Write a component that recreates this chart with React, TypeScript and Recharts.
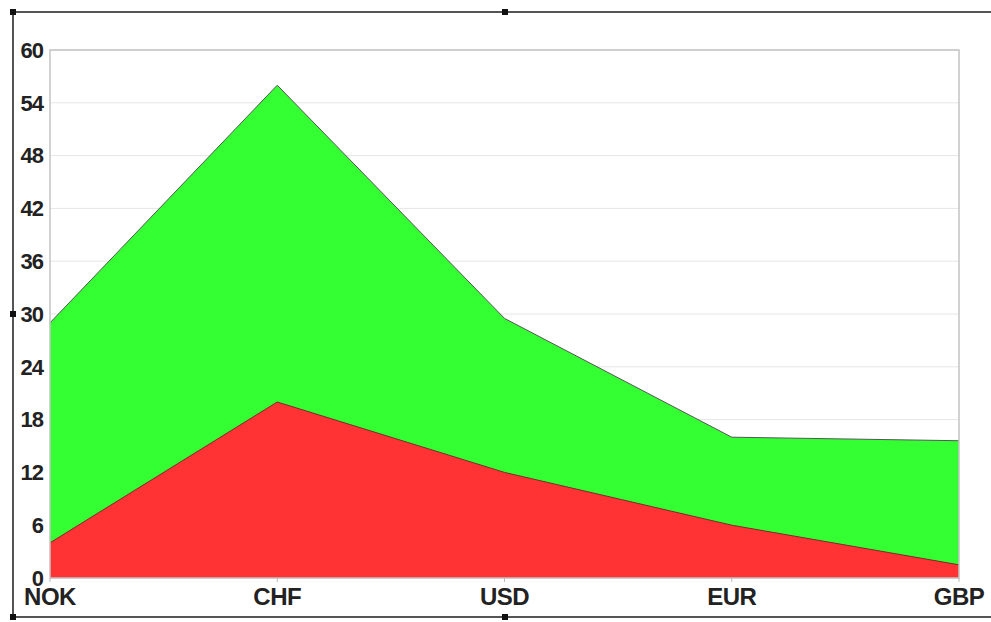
import { AreaChart, Area, XAxis, YAxis, CartesianGrid, ReferenceArea } from 'recharts';

const currencies = ['NOK', 'CHF', 'USD', 'EUR', 'GBP'];
const totalValues = [29, 56, 29.5, 16, 15.6];
const redValues = [4, 20, 12, 6, 1.5];
const yTicks = [0, 6, 12, 18, 24, 30, 36, 42, 48, 54, 60];

const data = currencies.map((c, i) => ({ name: c, total: totalValues[i], red: redValues[i] }));

const yTickFont = { fontFamily: 'Liberation Sans, Arial, sans-serif', fontWeight: 700, fontSize: 22, fill: '#222', letterSpacing: -1 };
const xTickFont = { fontFamily: 'Liberation Sans, Arial, sans-serif', fontWeight: 700, fontSize: 24, fill: '#222', letterSpacing: -0.5 };

const line = (s: React.CSSProperties): React.CSSProperties => ({ position: 'absolute', background: '#555', ...s });
const handle = (left: number, top: number): React.CSSProperties => ({
  position: 'absolute', left: left - 3, top: top - 3, width: 6, height: 6, background: '#111',
});

export default function App() {
  return (
    <div style={{ position: 'absolute', left: 0, top: 0, width: 991, height: 622, background: '#fff' }}>
      <AreaChart width={991} height={622} data={data} margin={{ top: 50, right: 32, left: 0, bottom: 0 }}>
        <CartesianGrid vertical={false} stroke="#e6e6e6" />
        <XAxis
          dataKey="name"
          height={44}
          tick={xTickFont}
          tickSize={4}
          tickMargin={6}
          stroke="#bbb"
          axisLine={false}
        />
        <YAxis
          width={50}
          domain={[0, 60]}
          ticks={yTicks}
          tick={yTickFont}
          tickSize={0}
          tickMargin={7}
          axisLine={false}
        />
        <Area type="linear" dataKey="total" stroke="#555" strokeWidth={1} fill="#33ff33" fillOpacity={1} isAnimationActive={false} dot={false} activeDot={false} />
        <Area type="linear" dataKey="red" stroke="#7a2a2a" strokeWidth={1} fill="#ff3333" fillOpacity={1} isAnimationActive={false} dot={false} activeDot={false} />
        <ReferenceArea x1="NOK" x2="GBP" y1={0} y2={60} fill="none" stroke="#c4c4c4" strokeWidth={1.5} ifOverflow="visible" />
      </AreaChart>
      <div style={line({ left: 12, top: 11, width: 979, height: 2 })} />
      <div style={line({ left: 12, top: 616, width: 979, height: 2 })} />
      <div style={line({ left: 12, top: 11, width: 2, height: 607 })} />
      <div style={handle(13, 12)} />
      <div style={handle(505, 12)} />
      <div style={handle(13, 617)} />
      <div style={handle(505, 617)} />
      <div style={handle(13, 314)} />
    </div>
  );
}
